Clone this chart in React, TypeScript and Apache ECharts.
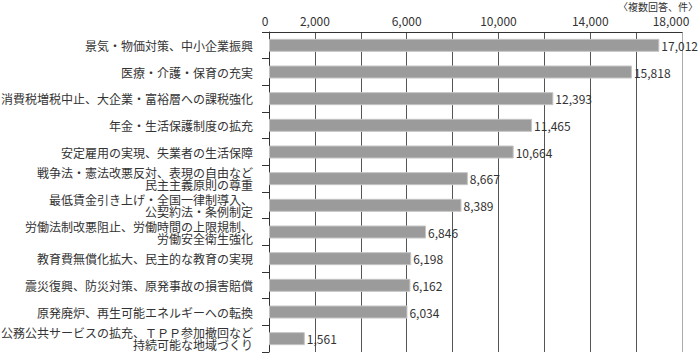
import React, { useEffect, useRef } from "react";
import * as echarts from "echarts";

const categories = [
  "景気・物価対策、中小企業振興",
  "医療・介護・保育の充実",
  "消費税増税中止、大企業・富裕層への課税強化",
  "年金・生活保護制度の拡充",
  "安定雇用の実現、失業者の生活保障",
  "戦争法・憲法改悪反対、表現の自由など\n民主主義原則の尊重",
  "最低賃金引き上げ・全国一律制導入、\n公契約法・条例制定",
  "労働法制改悪阻止、労働時間の上限規制、\n労働安全衛生強化",
  "教育費無償化拡大、民主的な教育の実現",
  "震災復興、防災対策、原発事故の損害賠償",
  "原発廃炉、再生可能エネルギーへの転換",
  "公務公共サービスの拡充、ＴＰＰ参加撤回など\n持続可能な地域づくり",
];
const values = [17012, 15818, 12393, 11465, 10664, 8667, 8389, 6846, 6198, 6162, 6034, 1561];
const xTickLabels = [0, 2000, 6000, 10000, 14000, 18000];
const unitNote = "〈複数回答、件〉";

const FONT = '"Noto Sans CJK JP", "Noto Sans", sans-serif';

export default function App() {
  const ref = useRef<HTMLDivElement>(null);
  useEffect(() => {
    document.body.style.margin = "0";
    if (!ref.current) return;
    const chart = echarts.init(ref.current, undefined, { renderer: "svg" });
    const fmt = (v: number) => v.toLocaleString("en-US");
    chart.setOption({
      animation: false,
      textStyle: { fontFamily: FONT },
      title: {
        text: unitNote,
        right: 2,
        top: 1,
        padding: 0,
        textStyle: { fontSize: 10, lineHeight: 11, fontWeight: "normal", color: "#333", fontFamily: FONT },
      },
      grid: {
        left: 269,
        right: 18,
        top: 32,
        bottom: 2,
        containLabel: false,
        outerBoundsMode: "none",
      },
      xAxis: {
        type: "value",
        position: "top",
        min: 0,
        max: 18000,
        interval: 2000,
        axisLine: { show: true, lineStyle: { color: "#333", width: 1 } },
        axisTick: { show: false },
        axisLabel: {
          margin: 6,
          fontSize: 12,
          color: "#333",
          fontFamily: FONT,
          formatter: (v: number) => {
            if (!xTickLabels.includes(v)) return "";
            if (v === 18000) return "{last|" + fmt(v) + "}";
            if (v === 0) return "{first|" + fmt(v) + "}";
            return fmt(v);
          },
          rich: {
            last: { padding: [0, 22, 0, 0], fontSize: 12, color: "#333", fontFamily: FONT },
            first: { padding: [0, 8, 0, 0], fontSize: 12, color: "#333", fontFamily: FONT },
          },
        },
        splitLine: {
          show: true,
          lineStyle: {
            color: ["#555", "#555", "#555", "#555", "#555", "#555", "#555", "#555", "#555", "#aaa"],
            width: 1,
          },
        },
      },
      yAxis: {
        type: "category",
        data: categories,
        inverse: true,
        axisLine: { show: true, lineStyle: { color: "#333", width: 1 } },
        axisTick: { show: true, length: 7, lineStyle: { color: "#333" } },
        axisLabel: {
          margin: 16,
          fontSize: 12,
          lineHeight: 12,
          color: "#333",
          fontFamily: FONT,
          align: "right",
        },
      },
      series: [
        {
          type: "bar",
          data: values,
          barWidth: 13,
          itemStyle: { color: "#9b9b9b", borderColor: "#c4c4c4", borderWidth: 1 },
          label: {
            show: true,
            position: "right",
            distance: 2,
            fontSize: 12,
            color: "#333",
            fontFamily: FONT,
            formatter: (p: any) => fmt(p.value),
          },
        },
      ],
    });
    return () => chart.dispose();
  }, []);
  return <div ref={ref} style={{ width: 700, height: 354 }} />;
}
